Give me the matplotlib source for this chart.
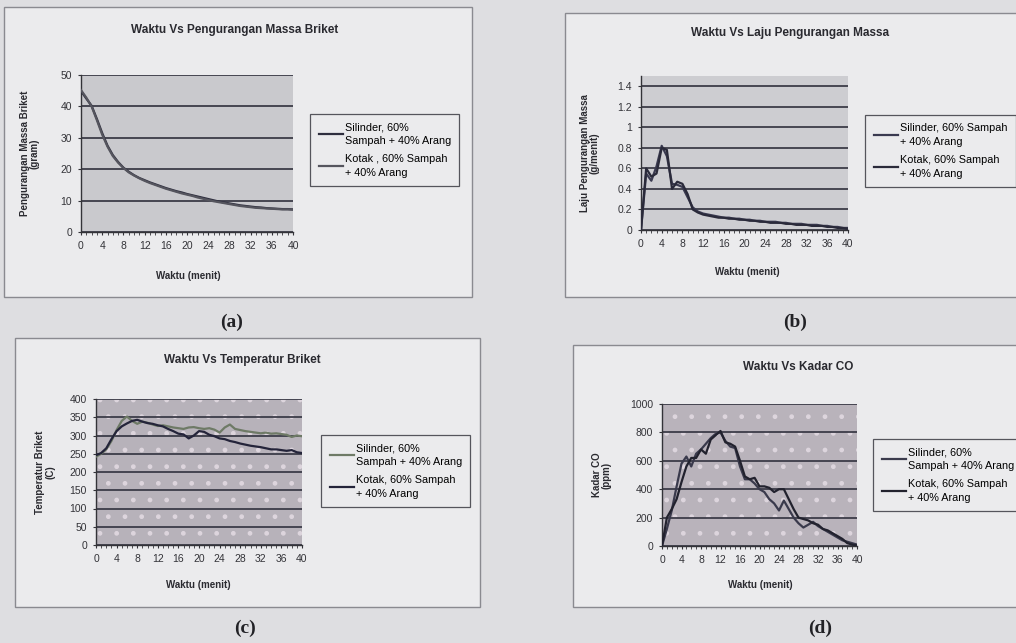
import numpy as np
import matplotlib
matplotlib.use("Agg")
import matplotlib.pyplot as plt
from matplotlib.patches import Rectangle

plt.rcParams['font.family'] = ['Liberation Sans', 'DejaVu Sans']

W, H = 1016, 643

# time axis (menit)
waktu = list(range(0, 41))
xticks = [0, 4, 8, 12, 16, 20, 24, 28, 32, 36, 40]

# legend texts as printed in each panel
labels_a = ["Silinder, 60%\nSampah + 40% Arang", "Kotak , 60% Sampah\n+ 40% Arang"]
labels_b = ["Silinder, 60% Sampah\n+ 40% Arang", "Kotak, 60% Sampah\n+ 40% Arang"]
labels_c = ["Silinder, 60%\nSampah + 40% Arang", "Kotak, 60% Sampah\n+ 40% Arang"]
labels_d = ["Silinder, 60%\nSampah + 40% Arang", "Kotak, 60% Sampah\n+ 40% Arang"]

# (a) pengurangan massa briket (gram)
massa_silinder = [44.9, 42.5, 40.2, 36.0, 31.5, 27.5, 24.5, 22.3, 20.5, 19.2, 18.1,
                  17.2, 16.5, 15.8, 15.2, 14.6, 14.0, 13.5, 13.0, 12.6, 12.1,
                  11.7, 11.3, 10.9, 10.5, 10.1, 9.7, 9.4, 9.1, 8.8, 8.5,
                  8.3, 8.1, 7.9, 7.8, 7.6, 7.5, 7.4, 7.3, 7.3, 7.2]
massa_kotak = [45.2, 42.8, 40.0, 35.6, 31.0, 27.2, 24.2, 22.1, 20.4, 19.0, 18.0,
               17.1, 16.3, 15.6, 15.0, 14.4, 13.8, 13.3, 12.8, 12.3, 11.9,
               11.5, 11.0, 10.6, 10.2, 9.8, 9.5, 9.2, 8.9, 8.6, 8.3,
               8.1, 7.9, 7.7, 7.6, 7.5, 7.4, 7.3, 7.2, 7.2, 7.1]

# (b) laju pengurangan massa (g/menit)
laju_silinder = [0, 0.55, 0.48, 0.62, 0.82, 0.72, 0.45, 0.44, 0.42, 0.32, 0.22,
                 0.18, 0.16, 0.15, 0.14, 0.13, 0.12, 0.12, 0.11, 0.11, 0.10,
                 0.10, 0.09, 0.09, 0.08, 0.08, 0.08, 0.07, 0.07, 0.06, 0.06,
                 0.06, 0.05, 0.05, 0.05, 0.04, 0.04, 0.03, 0.03, 0.02, 0.02]
laju_kotak = [0, 0.60, 0.52, 0.55, 0.80, 0.78, 0.40, 0.47, 0.45, 0.35, 0.20,
              0.17, 0.15, 0.14, 0.13, 0.12, 0.12, 0.11, 0.11, 0.10, 0.10,
              0.09, 0.09, 0.08, 0.08, 0.07, 0.07, 0.07, 0.06, 0.06, 0.05,
              0.05, 0.05, 0.04, 0.04, 0.04, 0.03, 0.03, 0.02, 0.02, 0.01]

# (c) temperatur briket (C)
temp_silinder = [242, 250, 262, 285, 315, 340, 352, 340, 332, 338, 335,
                 330, 326, 328, 325, 322, 320, 318, 322, 323, 320,
                 318, 320, 316, 308, 322, 330, 318, 315, 312, 310,
                 308, 306, 308, 305, 306, 304, 302, 296, 300, 298]
temp_kotak = [246, 252, 265, 290, 312, 325, 333, 340, 343, 338, 334,
              332, 328, 325, 318, 312, 305, 303, 292, 300, 312,
              310, 302, 298, 292, 290, 285, 282, 278, 275, 272,
              270, 268, 265, 262, 262, 260, 258, 260, 254, 252]

# (d) kadar CO (ppm)
co_silinder = [0, 120, 250, 420, 580, 630, 560, 650, 680, 720, 760,
               790, 800, 740, 700, 690, 560, 470, 470, 440, 400,
               380, 330, 300, 250, 320, 260, 200, 160, 130, 150,
               170, 140, 120, 100, 80, 60, 40, 30, 20, 10]
co_kotak = [0, 200, 260, 330, 450, 560, 620, 620, 680, 650, 750,
            780, 810, 730, 720, 700, 600, 490, 470, 480, 420,
            420, 410, 380, 400, 400, 330, 260, 200, 190, 180,
            160, 150, 120, 110, 90, 70, 50, 20, 10, 5]


def fx(px):
    return px / W


def fy(py):
    return 1 - py / H


fig = plt.figure(figsize=(W / 100, H / 100), dpi=100)
fig.patch.set_facecolor('#dedee1')


def panel(box, area, title, title_xy, ylabel, ylabel_x, xlabel_xy, legend_xy,
          ys, labels, ylim, yticks, colors, plot_bg, speckle=False,
          caption=None, caption_xy=None):
    x0, y0, x1, y1 = box
    fig.add_artist(Rectangle((fx(x0), fy(y1)), (x1 - x0) / W, (y1 - y0) / H,
                             transform=fig.transFigure, facecolor='#ebebed',
                             edgecolor='#8a8a90', lw=1.0, zorder=0))
    a0, b0, a1, b1 = area
    ax = fig.add_axes([fx(a0), fy(b1), (a1 - a0) / W, (b1 - b0) / H])
    ax.set_facecolor(plot_bg)
    if speckle:
        ax.add_patch(Rectangle((0, 0), 1, 1, transform=ax.transAxes,
                               facecolor='none', edgecolor='#ddd5dd',
                               hatch='.', lw=0, zorder=0.5))
    for yt in yticks:
        ax.axhline(yt, color='#3c3c48', lw=1.3, zorder=1)
    l1, = ax.plot(waktu, ys[0], color=colors[0], lw=1.6, zorder=3)
    l2, = ax.plot(waktu, ys[1], color=colors[1], lw=1.6, zorder=3)
    ax.set_xlim(0, 40)
    ax.set_ylim(*ylim)
    ax.set_xticks(xticks)
    ax.set_xticks(waktu, minor=True)
    ax.set_yticks(yticks)
    ax.set_yticklabels([f'{v:g}' for v in yticks])
    ax.tick_params(axis='both', labelsize=7.5, colors='#333338', length=2.5,
                   width=0.8, pad=4)
    ax.tick_params(axis='x', which='minor', length=2, width=0.6, colors='#333338')
    for side in ['top', 'right']:
        ax.spines[side].set_visible(False)
    for side in ['left', 'bottom']:
        ax.spines[side].set_color('#333338')
        ax.spines[side].set_linewidth(1.0)
    fig.text(fx(title_xy[0]), fy(title_xy[1]), title, ha='center', va='center',
             fontsize=8.5, fontweight='bold', color='#2a2a30')
    fig.text(fx(xlabel_xy[0]), fy(xlabel_xy[1]), 'Waktu (menit)', ha='center',
             va='center', fontsize=7, fontweight='bold', color='#2a2a30')
    fig.text(fx(ylabel_x), fy((b0 + b1) / 2), ylabel, ha='center', va='center',
             rotation=90, fontsize=7, fontweight='bold', color='#2a2a30',
             multialignment='center', linespacing=1.0)
    leg = ax.legend([l1, l2], labels, loc='center left',
                    bbox_to_anchor=(fx(legend_xy[0]), fy(legend_xy[1])),
                    bbox_transform=fig.transFigure, fontsize=7.8,
                    handlelength=2.2, handletextpad=0.15, labelspacing=0.7,
                    borderpad=0.8, fancybox=False, framealpha=1)
    for t in leg.get_texts():
        t.set_linespacing(1.5)
    leg.get_frame().set_facecolor('#ebebed')
    leg.get_frame().set_edgecolor('#55555c')
    leg.get_frame().set_linewidth(0.9)
    if caption:
        fig.text(fx(caption_xy[0]), fy(caption_xy[1]), caption, ha='center',
                 va='center', fontsize=14, family='Liberation Serif',
                 fontweight='bold', color='#222226')
    return ax


panel((4, 7, 472, 297), (81, 75, 293, 232),
      'Waktu Vs Pengurangan Massa Briket', (235, 30),
      'Pengurangan Massa Briket\n(gram)', 30, (188, 276), (305, 150),
      [massa_silinder, massa_kotak], labels_a, (0, 50), [0, 10, 20, 30, 40, 50],
      ['#2e2e3e', '#55555e'], '#c9c9cd',
      caption='(a)', caption_xy=(232, 322))

panel((565, 13, 1020, 297), (641, 76, 848, 230),
      'Waktu Vs Laju Pengurangan Massa', (790, 33),
      'Laju Pengurangan Massa\n(g/menit)', 590, (747, 272), (860, 151),
      [laju_silinder, laju_kotak], labels_b, (0, 1.5),
      [0, 0.2, 0.4, 0.6, 0.8, 1.0, 1.2, 1.4],
      ['#3a3a50', '#2a2a3a'], '#cdcdd1',
      caption='(b)', caption_xy=(795, 322))

panel((15, 338, 480, 607), (96, 399, 302, 545),
      'Waktu Vs Temperatur Briket', (242, 360),
      'Temperatur Briket\n(C)', 45, (198, 585), (316, 471),
      [temp_silinder, temp_kotak], labels_c, (0, 400),
      [0, 50, 100, 150, 200, 250, 300, 350, 400],
      ['#6e7a66', '#24243a'], '#b7b2ba', speckle=True,
      caption='(c)', caption_xy=(245, 628))

panel((573, 345, 1020, 607), (662, 404, 857, 546),
      'Waktu Vs Kadar CO', (798, 367),
      'Kadar CO\n(ppm)', 602, (760, 585), (868, 475),
      [co_silinder, co_kotak], labels_d, (0, 1000), [0, 200, 400, 600, 800, 1000],
      ['#3a3a4c', '#22222e'], '#b9b3bb', speckle=True,
      caption='(d)', caption_xy=(820, 628))

fig.savefig('out.png', dpi=100, facecolor=fig.get_facecolor())
